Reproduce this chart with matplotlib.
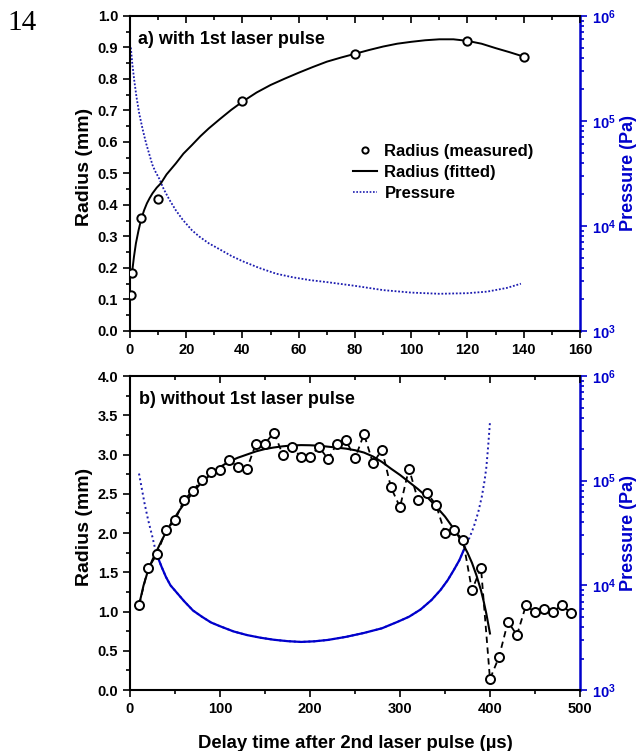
import numpy as np
import matplotlib
matplotlib.use("Agg")
import matplotlib.pyplot as plt
from matplotlib.ticker import MultipleLocator, FuncFormatter, LogLocator, NullFormatter
from matplotlib.lines import Line2D

plt.rcParams['font.family'] = ['Liberation Sans', 'DejaVu Sans']
plt.rcParams['font.weight'] = 'bold'
plt.rcParams['mathtext.fontset'] = 'custom'
plt.rcParams['mathtext.rm'] = 'Liberation Sans:bold'
plt.rcParams['mathtext.bf'] = 'Liberation Sans:bold'

BLUE = '#0000cc'
DOTBLUE = '#1c1cb0'

# ---------------- panel a) with 1st laser pulse ----------------
t_a_meas = [0.3, 0.8, 4, 10, 40, 80, 120, 140]
r_a_meas = [0.115, 0.185, 0.36, 0.42, 0.73, 0.88, 0.92, 0.87]

t_a_fit = [0.8, 1.4, 2.1, 3, 3.9, 5, 6, 7, 8, 9.5, 11, 13, 16.3, 19, 22, 25,
           28, 32, 36, 40, 45, 50, 55, 60, 65, 70, 75, 80, 85, 90, 95, 100,
           105, 110, 115, 120, 125, 130, 135, 140]
r_a_fit = [0.19, 0.235, 0.278, 0.318, 0.352, 0.383, 0.405, 0.422, 0.437, 0.455,
           0.469, 0.497, 0.532, 0.563, 0.59, 0.618, 0.643, 0.673, 0.702, 0.728,
           0.757, 0.781, 0.801, 0.82, 0.838, 0.855, 0.868, 0.88, 0.892, 0.903,
           0.912, 0.918, 0.923, 0.926, 0.926, 0.921, 0.912, 0.898, 0.885, 0.871]

t_a_p = [0.3, 0.8, 1.5, 2.3, 3.3, 4.5, 5.7, 7, 8, 9, 10.4, 12, 14, 16.3, 18.7,
         22, 24.6, 28, 31.7, 36, 40, 46, 52, 58, 64, 70, 80, 90, 100, 110, 120,
         127, 134, 139]
p_a = [5.01e5, 3.55e5, 2.45e5, 1.70e5, 1.17e5, 8.32e4, 6.17e4, 4.68e4, 3.80e4,
       3.31e4, 2.82e4, 2.24e4, 1.78e4, 1.41e4, 1.15e4, 9.12e3, 7.94e3, 6.84e3,
       6.03e3, 5.19e3, 4.62e3, 3.98e3, 3.51e3, 3.24e3, 3.05e3, 2.92e3, 2.69e3,
       2.45e3, 2.32e3, 2.26e3, 2.29e3, 2.37e3, 2.57e3, 2.82e3]

# ---------------- panel b) without 1st laser pulse ----------------
t_b_meas = [10, 20, 30, 40, 50, 60, 70, 80, 90, 100, 110, 120, 130, 140, 150,
            160, 170, 180, 190, 200, 210, 220, 230, 240, 250, 260, 270, 280,
            290, 300, 310, 320, 330, 340, 350, 360, 370, 380, 390, 400, 410,
            420, 430, 440, 450, 460, 470, 480, 490]
r_b_meas = [1.08, 1.55, 1.73, 2.04, 2.16, 2.42, 2.54, 2.68, 2.78, 2.80, 2.93,
            2.84, 2.82, 3.14, 3.14, 3.28, 2.99, 3.09, 2.97, 2.97, 3.10, 2.94,
            3.14, 3.18, 2.95, 3.26, 2.89, 3.06, 2.58, 2.33, 2.82, 2.42, 2.51,
            2.36, 2.00, 2.04, 1.91, 1.27, 1.56, 0.14, 0.42, 0.87, 0.70, 1.08,
            0.99, 1.03, 1.00, 1.08, 0.98]

t_b_fit = [10, 15, 20, 25, 30, 35, 40, 45, 50, 55, 60, 70, 80, 90, 100, 110,
           120, 130, 140, 150, 160, 170, 180, 190, 200, 210, 220, 230, 240, 250,
           260, 270, 280, 290, 300, 310, 320, 330, 340, 350, 360, 365, 370, 375,
           380, 385, 390, 393, 396, 400]
r_b_fit = [1.08, 1.33, 1.52, 1.66, 1.78, 1.90, 2.01, 2.11, 2.20, 2.29, 2.37,
           2.52, 2.65, 2.75, 2.84, 2.91, 2.96, 3.00, 3.04, 3.07, 3.09, 3.105,
           3.115, 3.12, 3.118, 3.112, 3.10, 3.088, 3.075, 3.055, 3.025, 2.975,
           2.905, 2.82, 2.74, 2.65, 2.56, 2.46, 2.34, 2.21, 2.05, 1.96, 1.86,
           1.75, 1.62, 1.46, 1.27, 1.13, 0.97, 0.72]

t_b_p = [10, 13, 16, 20, 25, 29, 35, 40, 45, 51, 60, 70, 80, 90, 100, 115, 130,
         145, 160, 175, 190, 205, 220, 240, 260, 280, 297, 310, 323, 335, 345,
         353, 360, 366, 371, 377, 382, 387, 391, 394, 396, 398, 400]
p_b = [1.17e5, 8.51e4, 6.17e4, 4.27e4, 2.88e4, 2.04e4, 1.51e4, 1.20e4, 1.00e4,
       8.71e3, 7.08e3, 5.75e3, 5.01e3, 4.42e3, 4.07e3, 3.63e3, 3.35e3, 3.16e3,
       3.02e3, 2.93e3, 2.88e3, 2.92e3, 3.01e3, 3.22e3, 3.51e3, 3.89e3, 4.47e3,
       5.01e3, 5.89e3, 7.24e3, 9.02e3, 1.12e4, 1.41e4, 1.74e4, 2.19e4, 2.82e4,
       3.63e4, 5.01e4, 7.08e4, 1.0e5, 1.35e5, 2.14e5, 3.63e5]

fig = plt.figure(figsize=(6.36, 7.51), dpi=100)
ax1 = fig.add_axes([0.2044, 0.5593, 0.7075, 0.4194])
ax2 = fig.add_axes([0.2044, 0.0812, 0.7075, 0.4181])

pow_fmt = FuncFormatter(lambda v, pos: r'$\mathbf{10^{%d}}$' % round(np.log10(v)))


def style_axes(ax, axr, xmaj, xmin, ymaj, ymin):
    ax.xaxis.set_major_locator(MultipleLocator(xmaj))
    ax.xaxis.set_minor_locator(MultipleLocator(xmin))
    ax.yaxis.set_major_locator(MultipleLocator(ymaj))
    ax.yaxis.set_minor_locator(MultipleLocator(ymin))
    ax.yaxis.set_major_formatter(FuncFormatter(lambda v, p: '%.1f' % v))
    ax.tick_params(axis='both', which='both', direction='out', width=1.2,
                   labelsize=10.5, top=False, right=False)
    ax.tick_params(which='major', length=5)
    ax.tick_params(which='minor', length=3)
    for s in ['left', 'bottom']:
        ax.spines[s].set_linewidth(1.5)
    ax.spines['right'].set_visible(False)
    ax.spines['top'].set_visible(False)
    # top axis with inward ticks, no labels
    sec = ax.secondary_xaxis('top')
    sec.xaxis.set_major_locator(MultipleLocator(xmaj))
    sec.xaxis.set_minor_locator(MultipleLocator(xmin))
    sec.tick_params(which='both', direction='in', width=1.2, labeltop=False)
    sec.tick_params(which='major', length=5)
    sec.tick_params(which='minor', length=3)
    sec.spines['top'].set_linewidth(1.5)
    ax.set_ylabel('Radius (mm)', fontsize=14, fontweight='bold')
    ax.yaxis.set_label_coords(-0.083, 0.52)

    axr.set_yscale('log')
    axr.set_ylim(1e3, 1e6)
    axr.yaxis.set_major_locator(LogLocator(base=10, numticks=10))
    axr.yaxis.set_minor_locator(LogLocator(base=10, subs=np.arange(2, 10), numticks=10))
    axr.yaxis.set_minor_formatter(NullFormatter())
    axr.yaxis.set_major_formatter(pow_fmt)
    axr.spines['right'].set_color(BLUE)
    axr.spines['right'].set_linewidth(1.8)
    for s in ['left', 'bottom', 'top']:
        axr.spines[s].set_visible(False)
    axr.tick_params(axis='y', which='both', colors=BLUE, width=1.2, labelsize=10.5, direction='out')
    axr.tick_params(axis='y', which='major', length=5)
    axr.tick_params(axis='y', which='minor', length=3)
    axr.set_ylabel('Pressure (Pa)', fontsize=13, fontweight='bold', color=BLUE, labelpad=3)


# panel a
ax1r = ax1.twinx()
ax1.plot(t_a_fit, r_a_fit, color='black', lw=1.4, zorder=3)
ax1.plot(t_a_meas, r_a_meas, linestyle='none', marker='o', ms=6, mfc='white',
         mec='black', mew=1.4, zorder=4)
ax1r.plot(t_a_p, p_a, color=DOTBLUE, lw=1.3, linestyle=(0, (1, 1)))
ax1.set_xlim(0, 160)
ax1.set_ylim(0, 1.0)
style_axes(ax1, ax1r, 20, 10, 0.1, 0.05)
ax1.set_zorder(ax1r.get_zorder() + 1)
ax1.patch.set_visible(False)
ax1.text(0.018, 0.924, 'a) with 1st laser pulse', transform=ax1.transAxes,
         fontsize=13, fontweight='bold', va='center', ha='left')

handles = [Line2D([], [], linestyle='none', marker='o', ms=4.5, mfc='white', mec='black', mew=1.4),
           Line2D([], [], color='black', lw=1.5),
           Line2D([], [], color=DOTBLUE, lw=1.2, linestyle=(0, (1, 1)))]
ax1.legend(handles, ['Radius (measured)', 'Radius (fitted)', 'Pressure'],
           loc='upper left', bbox_to_anchor=(0.495, 0.594), frameon=False,
           fontsize=12, handlelength=1.45, handletextpad=0.45, labelspacing=0.35,
           borderaxespad=0, borderpad=0)

# panel b
ax2r = ax2.twinx()
ax2.plot(t_b_meas, r_b_meas, color='black', lw=1.3, linestyle=(0, (3.5, 2.5)),
         marker='o', ms=6.5, mfc='white', mec='black', mew=1.4, zorder=4)
ax2.plot(t_b_fit, r_b_fit, color='black', lw=1.5, zorder=3)
tb = np.array(t_b_p)
pb = np.array(p_b)
ax2r.plot(tb, pb, color=DOTBLUE, lw=1.4, linestyle=(0, (1, 1.5)))
mid = (tb >= 29) & (tb <= 371)
ax2r.plot(tb[mid], pb[mid], color=BLUE, lw=1.6)
ax2.set_xlim(0, 500)
ax2.set_ylim(0, 4.0)
style_axes(ax2, ax2r, 100, 50, 0.5, 0.25)
ax2.set_zorder(ax2r.get_zorder() + 1)
ax2.patch.set_visible(False)
ax2.text(0.02, 0.924, 'b) without 1st laser pulse', transform=ax2.transAxes,
         fontsize=13, fontweight='bold', va='center', ha='left')
ax2.set_xlabel('Delay time after 2nd laser pulse (\u00b5s)', fontsize=13.3,
               fontweight='bold', labelpad=14)

fig.text(0.011, 0.987, '14', family='Liberation Serif', fontweight='normal',
         fontsize=21, va='top', ha='left')

fig.savefig('out.png', dpi=100)
